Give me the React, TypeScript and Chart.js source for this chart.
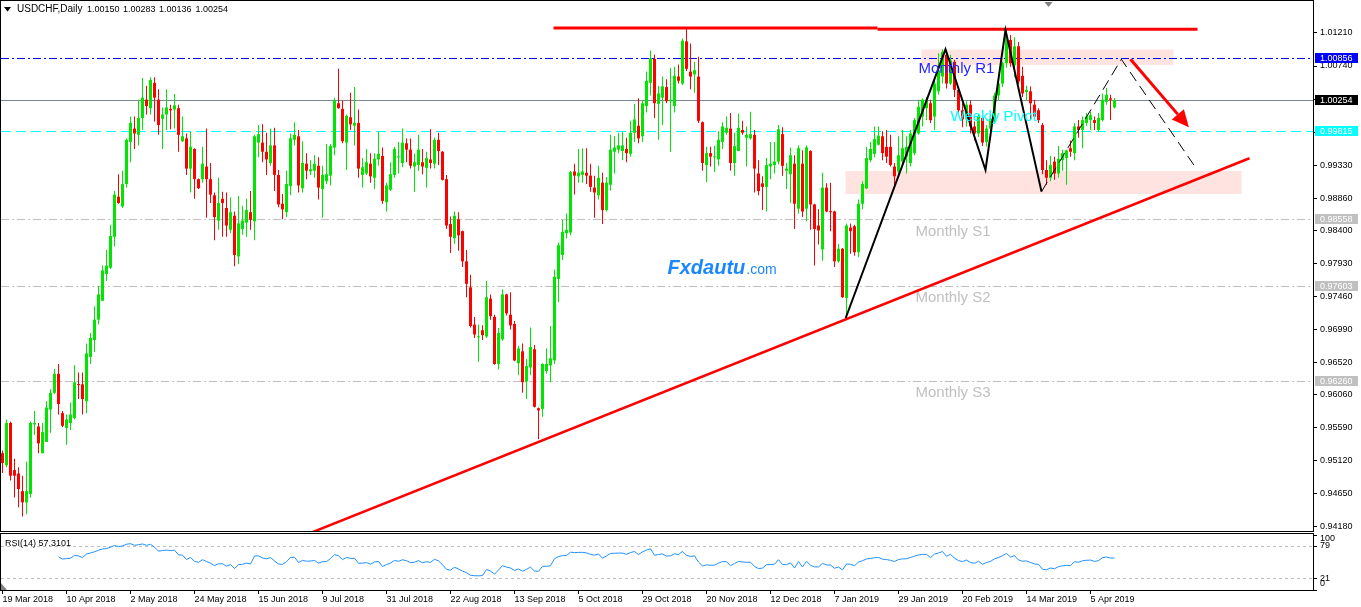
import React, { useEffect, useRef } from "react";
import { Chart, registerables } from "chart.js";

Chart.register(...registerables);

// ---------------- data ----------------
const SYMBOL_TITLE = "USDCHF,Daily";
const HEADER_QUOTE = ["1.00150", "1.00283", "1.00136", "1.00254"];

// Daily candles [open, high, low, close], 19 Mar 2018 .. Apr 2019
const OHLC: number[][] = [
  [0.9523, 0.9527, 0.9495, 0.9509], [0.9506, 0.9571, 0.9503, 0.9566], [0.9566, 0.9568, 0.9484, 0.9491], [0.9499, 0.9515, 0.946, 0.9491],
  [0.9494, 0.9503, 0.9446, 0.9472], [0.9469, 0.9491, 0.9433, 0.9453], [0.9453, 0.9511, 0.9436, 0.9469], [0.9465, 0.9568, 0.946, 0.9566],
  [0.9564, 0.9583, 0.9549, 0.9566], [0.9561, 0.9566, 0.9523, 0.9537], [0.9523, 0.9566, 0.9523, 0.9553], [0.9539, 0.9597, 0.9539, 0.9588],
  [0.9585, 0.9614, 0.9552, 0.9609], [0.9609, 0.9643, 0.9607, 0.9636], [0.9636, 0.965, 0.9578, 0.9593], [0.958, 0.9583, 0.956, 0.9562],
  [0.9559, 0.9578, 0.9535, 0.9571], [0.9566, 0.9595, 0.9556, 0.9578], [0.9573, 0.9648, 0.9571, 0.9624], [0.9621, 0.9638, 0.96, 0.962],
  [0.9621, 0.9638, 0.9578, 0.96], [0.9597, 0.9679, 0.958, 0.9665], [0.966, 0.9694, 0.965, 0.9687], [0.9684, 0.9732, 0.9667, 0.9713],
  [0.9713, 0.9761, 0.9706, 0.9749], [0.974, 0.979, 0.974, 0.9783], [0.9778, 0.9812, 0.9768, 0.979], [0.9787, 0.9848, 0.9785, 0.9832],
  [0.9831, 0.9896, 0.9817, 0.9891], [0.9888, 0.992, 0.9878, 0.9879], [0.9874, 0.9925, 0.9872, 0.9906], [0.9906, 0.9971, 0.9901, 0.9969],
  [0.9966, 1.0002, 0.9937, 0.9993], [0.9985, 1.0002, 0.9956, 0.9978], [0.9976, 1.0026, 0.9961, 1.0], [1.0, 1.0057, 0.9983, 1.0029],
  [1.0026, 1.0046, 1.0005, 1.0017], [1.0014, 1.0058, 1.0005, 1.0054], [1.005, 1.0058, 0.9995, 1.0029], [1.0026, 1.0041, 0.9976, 0.999],
  [0.9999, 1.0015, 0.9956, 1.0005], [1.0005, 1.0041, 0.9983, 1.0015], [1.0013, 1.0019, 0.9984, 1.0011], [1.0012, 1.0034, 0.9985, 1.0018],
  [1.0014, 1.0019, 0.9952, 0.9976], [0.9967, 1.0002, 0.9966, 0.9974], [0.9971, 0.9978, 0.9919, 0.9928], [0.9928, 0.998, 0.9894, 0.9959],
  [0.9956, 0.9957, 0.9885, 0.9913], [0.9913, 0.9914, 0.9899, 0.99], [0.9913, 0.9959, 0.9908, 0.9935], [0.9931, 0.9985, 0.9858, 0.9913],
  [0.9913, 0.9936, 0.9879, 0.9891], [0.989, 0.9894, 0.9826, 0.9859], [0.9854, 0.9915, 0.9841, 0.9879], [0.9885, 0.9895, 0.9831, 0.9879],
  [0.9872, 0.9894, 0.9831, 0.9847], [0.9841, 0.9887, 0.9836, 0.9866], [0.9861, 0.9867, 0.9789, 0.9805], [0.9803, 0.9889, 0.9792, 0.985],
  [0.9842, 0.9875, 0.9834, 0.9854], [0.9851, 0.9885, 0.9831, 0.9869], [0.9866, 0.9896, 0.9841, 0.9855], [0.9853, 0.9976, 0.9826, 0.9974],
  [0.9965, 0.999, 0.9944, 0.9977], [0.9965, 0.9991, 0.9937, 0.9952], [0.9952, 0.9979, 0.9919, 0.9941], [0.9936, 0.9985, 0.9932, 0.9961],
  [0.9961, 0.9986, 0.9896, 0.9919], [0.9919, 0.9926, 0.9873, 0.9877], [0.9878, 0.9892, 0.9856, 0.987], [0.9866, 0.9925, 0.9859, 0.9906],
  [0.9903, 0.9978, 0.989, 0.9971], [0.9969, 0.9994, 0.9961, 0.9976], [0.9974, 0.9983, 0.9894, 0.9904], [0.99, 0.9967, 0.9894, 0.9936],
  [0.9935, 0.995, 0.9913, 0.9925], [0.9924, 0.994, 0.9919, 0.9927], [0.9925, 0.9947, 0.9915, 0.9935], [0.9932, 0.9944, 0.9884, 0.9901],
  [0.9899, 0.9932, 0.9858, 0.9919], [0.991, 0.9963, 0.9906, 0.992], [0.9918, 0.9963, 0.9904, 0.996], [0.9958, 1.0029, 0.9947, 1.0025],
  [1.0021, 1.007, 1.0013, 1.0014], [1.0013, 1.0025, 0.9964, 0.9967], [0.9965, 1.0005, 0.9926, 1.0003], [1.0001, 1.0036, 0.9983, 0.9991],
  [0.9989, 1.0044, 0.9961, 0.9993], [0.9993, 1.0012, 0.9915, 0.9928], [0.9919, 0.9943, 0.9901, 0.993], [0.9921, 0.9956, 0.9919, 0.9937],
  [0.9935, 0.995, 0.9908, 0.9917], [0.9915, 0.995, 0.9899, 0.9942], [0.9941, 0.998, 0.9932, 0.9949], [0.9946, 0.9958, 0.9878, 0.9882],
  [0.988, 0.9908, 0.9867, 0.9904], [0.9898, 0.9937, 0.9896, 0.992], [0.9919, 0.9959, 0.9915, 0.9956], [0.9944, 0.9966, 0.9921, 0.9945],
  [0.9936, 0.9985, 0.993, 0.9965], [0.9964, 0.9971, 0.9937, 0.9955], [0.9955, 0.9971, 0.9928, 0.9932], [0.9931, 0.9949, 0.9895, 0.9937],
  [0.9933, 0.9976, 0.9925, 0.9955], [0.9937, 0.9956, 0.992, 0.9931], [0.9929, 0.9952, 0.9901, 0.9943], [0.9941, 0.9984, 0.9928, 0.9936],
  [0.9935, 0.9972, 0.9928, 0.9969], [0.9969, 0.9979, 0.9933, 0.9953], [0.9952, 0.9953, 0.9911, 0.9912], [0.9913, 0.9919, 0.9842, 0.9847],
  [0.9849, 0.986, 0.9808, 0.9831], [0.9829, 0.9867, 0.9821, 0.9861], [0.9856, 0.9866, 0.9811, 0.9833], [0.9839, 0.984, 0.9788, 0.9796],
  [0.9796, 0.9812, 0.9745, 0.9764], [0.9759, 0.9777, 0.9702, 0.9704], [0.9706, 0.9717, 0.9687, 0.9692], [0.9688, 0.9706, 0.9653, 0.9689],
  [0.9698, 0.9705, 0.9684, 0.9691], [0.9689, 0.9768, 0.9687, 0.9745], [0.9743, 0.9749, 0.9713, 0.9718], [0.9717, 0.972, 0.9649, 0.965],
  [0.965, 0.9701, 0.9642, 0.9694], [0.9685, 0.9756, 0.9683, 0.9749], [0.9749, 0.975, 0.9719, 0.9722], [0.972, 0.9752, 0.9699, 0.9705],
  [0.9707, 0.9711, 0.9654, 0.9655], [0.9651, 0.9676, 0.9634, 0.9672], [0.9668, 0.9679, 0.9609, 0.9624], [0.9625, 0.9657, 0.96, 0.9647],
  [0.9645, 0.9702, 0.9634, 0.9674], [0.9671, 0.9677, 0.9588, 0.9589], [0.9587, 0.9588, 0.9543, 0.9584], [0.9586, 0.9651, 0.9575, 0.965],
  [0.964, 0.9672, 0.9636, 0.965], [0.9648, 0.9704, 0.9624, 0.9658], [0.9655, 0.9784, 0.965, 0.9774], [0.9771, 0.9823, 0.9738, 0.9819],
  [0.9805, 0.9855, 0.9798, 0.9838], [0.9836, 0.9864, 0.9829, 0.9841], [0.9837, 0.9925, 0.9833, 0.9923], [0.9924, 0.9935, 0.9891, 0.9918],
  [0.9917, 0.9956, 0.9908, 0.9922], [0.9919, 0.9957, 0.9908, 0.9924], [0.9922, 0.9957, 0.9906, 0.9918], [0.9918, 0.9935, 0.9895, 0.9902],
  [0.9901, 0.9918, 0.9858, 0.9894], [0.989, 0.9932, 0.9884, 0.9915], [0.9908, 0.9922, 0.9849, 0.9869], [0.9869, 0.9916, 0.9867, 0.9908],
  [0.9905, 0.9976, 0.9897, 0.9955], [0.9952, 0.9974, 0.9921, 0.9958], [0.9955, 0.9979, 0.995, 0.9961], [0.9953, 0.998, 0.994, 0.9961],
  [0.9956, 0.9972, 0.9937, 0.995], [0.9949, 0.9996, 0.9945, 0.9979], [0.9979, 1.002, 0.9966, 0.9998], [0.9989, 1.0028, 0.9964, 0.9971],
  [0.9974, 1.0025, 0.9966, 1.0021], [1.0017, 1.0066, 1.0008, 1.0053], [1.005, 1.0096, 1.0032, 1.0085], [1.0084, 1.009, 1.0, 1.0021],
  [1.002, 1.0046, 0.9969, 1.0035], [1.0029, 1.0059, 0.999, 1.0045], [1.0044, 1.0055, 1.0021, 1.0024], [1.0024, 1.0071, 0.9952, 1.0026],
  [1.0017, 1.0073, 1.0008, 1.006], [1.0059, 1.0076, 1.0049, 1.0053], [1.0049, 1.0113, 1.0047, 1.011], [1.0109, 1.0128, 1.0067, 1.007],
  [1.0066, 1.0106, 1.0041, 1.0059], [1.0062, 1.008, 1.0036, 1.0068], [1.0059, 1.0087, 0.9993, 0.9996], [0.9994, 0.9995, 0.9925, 0.9936],
  [0.9933, 0.9959, 0.9909, 0.995], [0.995, 0.9959, 0.9931, 0.9945], [0.9944, 0.996, 0.9923, 0.9945], [0.9941, 0.9981, 0.9932, 0.9969],
  [0.9966, 0.9994, 0.9956, 0.9988], [0.9979, 1.0002, 0.9976, 0.9986], [0.9985, 1.0007, 0.9925, 0.9936], [0.9936, 0.9979, 0.9918, 0.996],
  [0.9953, 1.0006, 0.9953, 0.9986], [0.9983, 0.9996, 0.9976, 0.9979], [0.9972, 0.9988, 0.9931, 0.9976], [0.9971, 1.0009, 0.9969, 0.9977],
  [0.9976, 0.9983, 0.9894, 0.9928], [0.9921, 0.994, 0.989, 0.9896], [0.9907, 0.9917, 0.9869, 0.9902], [0.9902, 0.9943, 0.9867, 0.9933],
  [0.9931, 0.9966, 0.9913, 0.9935], [0.9933, 0.9966, 0.9921, 0.9938], [0.9938, 0.999, 0.9934, 0.9984], [0.9977, 0.9987, 0.9918, 0.9932],
  [0.9925, 0.9936, 0.9899, 0.9928], [0.992, 0.9958, 0.9879, 0.9947], [0.9935, 0.9947, 0.9842, 0.9878], [0.9871, 0.9961, 0.9864, 0.9957],
  [0.9935, 0.9954, 0.9859, 0.9867], [0.9871, 0.9961, 0.9853, 0.9958], [0.9953, 0.9954, 0.9841, 0.9877], [0.9877, 0.9878, 0.979, 0.9842],
  [0.9847, 0.987, 0.982, 0.984], [0.9813, 0.9922, 0.9797, 0.9901], [0.9901, 0.9907, 0.9866, 0.9867], [0.9867, 0.9908, 0.9839, 0.9866],
  [0.9867, 0.9868, 0.9788, 0.9796], [0.9796, 0.9821, 0.9794, 0.9814], [0.9814, 0.9815, 0.9744, 0.9745], [0.9744, 0.985, 0.9716, 0.9847],
  [0.9844, 0.985, 0.9807, 0.9839], [0.9846, 0.9848, 0.9804, 0.9809], [0.9809, 0.9884, 0.9802, 0.9878], [0.9878, 0.991, 0.987, 0.9906],
  [0.99, 0.9959, 0.9899, 0.9943], [0.994, 0.9966, 0.9937, 0.9956], [0.9949, 0.9988, 0.9944, 0.997], [0.9962, 0.9988, 0.9961, 0.9975],
  [0.9974, 0.9981, 0.994, 0.995], [0.9959, 0.9983, 0.9936, 0.9945], [0.9959, 0.9976, 0.9931, 0.9933], [0.9931, 0.9936, 0.9902, 0.9917],
  [0.9924, 0.9974, 0.9919, 0.9947], [0.9938, 0.9983, 0.9931, 0.9957], [0.9945, 0.9974, 0.9921, 0.9959], [0.9936, 0.9983, 0.9931, 0.9978],
  [0.995, 1.0, 0.9947, 0.9997], [0.9978, 1.0026, 0.9976, 1.0016], [1.0002, 1.0028, 0.9988, 1.0026], [1.0014, 1.003, 0.9997, 1.0026],
  [1.0021, 1.0026, 0.9993, 0.9997], [1.0002, 1.0054, 0.9983, 1.0049], [1.0038, 1.0092, 1.0033, 1.0068], [1.0059, 1.0098, 1.0049, 1.0094],
  [1.009, 1.0095, 1.0042, 1.0049], [1.0049, 1.009, 1.0047, 1.0082], [1.008, 1.0083, 1.003, 1.004], [1.004, 1.0045, 1.0008, 1.0011],
  [1.0011, 1.0021, 0.9987, 0.9998], [0.9998, 1.0024, 0.9988, 1.0019], [1.0019, 1.0025, 0.9978, 0.9988], [0.9988, 0.9995, 0.9968, 0.9978],
  [0.9978, 1.0006, 0.9973, 1.0002], [1.0, 1.0004, 0.996, 0.9965], [0.9966, 0.999, 0.9959, 0.9985], [0.9985, 1.0005, 0.998, 0.9999],
  [0.9999, 1.0036, 0.9994, 1.0032], [1.0032, 1.0052, 1.0025, 1.0049], [1.0049, 1.008, 1.0044, 1.0078], [1.0078, 1.0125, 1.0072, 1.0116],
  [1.0111, 1.0118, 1.0073, 1.0078], [1.0075, 1.0115, 1.0058, 1.0102], [1.0102, 1.0108, 1.0048, 1.0052], [1.006, 1.0073, 1.003, 1.0035],
  [1.0037, 1.0046, 1.0025, 1.004], [1.0038, 1.0045, 0.9997, 1.0021], [1.0019, 1.0026, 1.0, 1.0002], [1.0011, 1.0014, 0.9993, 0.9997],
  [0.999, 0.9993, 0.992, 0.9926], [0.9926, 0.994, 0.9905, 0.9915], [0.9915, 0.9946, 0.991, 0.9933], [0.9938, 0.9945, 0.9912, 0.9921],
  [0.9921, 0.996, 0.9915, 0.9942], [0.994, 0.9955, 0.9925, 0.995], [0.9943, 0.9955, 0.9905, 0.9954], [0.9957, 0.9968, 0.9945, 0.9952],
  [0.995, 0.9993, 0.994, 0.9988], [0.9988, 0.9997, 0.9972, 0.9983], [0.9983, 1.0002, 0.9957, 0.9997], [0.9993, 1.0007, 0.9989, 1.0002],
  [0.9997, 1.0009, 0.9983, 1.0004], [0.9997, 1.0002, 0.9983, 0.9993], [0.9983, 1.0007, 0.998, 1.0], [0.9997, 1.0035, 0.9995, 1.0026],
  [1.0023, 1.0043, 1.0019, 1.0033], [1.0028, 1.0033, 0.9997, 1.0026], [1.0015, 1.00283, 1.00136, 1.00254],
];

const DATE_LABELS = [
  "19 Mar 2018", "10 Apr 2018", "2 May 2018", "24 May 2018", "15 Jun 2018", "9 Jul 2018",
  "31 Jul 2018", "22 Aug 2018", "13 Sep 2018", "5 Oct 2018", "29 Oct 2018", "20 Nov 2018",
  "12 Dec 2018", "7 Jan 2019", "29 Jan 2019", "20 Feb 2019", "14 Mar 2019", "5 Apr 2019",
];
const DATE_LABEL_STEP = 16; // bars between date labels

const PRICE_TICKS = [
  1.0121, 1.0074, 1.0027, 0.998, 0.9933, 0.9886, 0.984, 0.9793, 0.9746, 0.9699, 0.9652, 0.9606, 0.9559, 0.9512, 0.9465, 0.9418,
];
const PRICE_MIN = 0.94123;
const PRICE_MAX = 1.01665;
const X_MIN = -0.375;
const X_MAX = 327.625;

// Pivot levels
const LEVEL_NAMES = ["Monthly R1", "Weekly Pivot", "Monthly S1", "Monthly S2", "Monthly S3"];
const LEVEL_PRICES = [1.00856, 0.99815, 0.98558, 0.97603, 0.9626];
const LEVEL_LABEL_AT = [[229, 1.00645], [237, 0.99958], [228.25, 0.98328], [228.25, 0.97375], [228.25, 0.96023]];
const BID_PRICE = 1.00254;

// Drawn objects (bar index, price)
const RESISTANCE = [[[137.75, 1.01281], [218.75, 1.01281]], [[218.75, 1.01262], [298.75, 1.01262]]];
const TRENDLINE = [[75, 0.9405], [311.75, 0.99427]];
const ZIGZAG = [[210.8, 0.97154], [235.75, 1.00978], [245.75, 0.9926], [250.75, 1.01253], [259.75, 0.98952]];
const PROJECTION = [[259.75, 0.98952], [279.7, 1.00836], [298.7, 0.9926]];
const ARROW = [[282, 1.00836], [296.6, 0.99868]];
const ZONES = [[229.75, 1.00975, 292.75, 1.00755], [210.75, 0.99246, 309.75, 0.98919]];
const WATERMARK = ["Fxdautu", ".com"];
const WATERMARK_AT = [166.25, 0.97783];
const SHIFT_MARK_INDEX = 261.5;

const RSI_PERIOD = 14;
const RSI_LEVELS = [79, 21];
const RSI_TITLE = "RSI(14) 57.3101";

// ---------------- style ----------------
const FONT = '"Liberation Sans", Arial, sans-serif';
const UP = "#00e600";
const DOWN = "#ff0000";
const LEVEL_LINE_COLORS = ["#0000ff", "#00ffff", "#c0c0c0", "#c0c0c0", "#c0c0c0"];
const LEVEL_TEXT_COLORS = ["#2424ff", "#00ffff", "#c0c0c0", "#c0c0c0", "#c0c0c0"];
const LEVEL_DASHES = [[8, 3, 2, 3], [10, 5], [8, 3, 2, 3], [8, 3, 2, 3], [8, 3, 2, 3]];
const LEVEL_BOX_TEXT = ["#ffffff", "#ffffff", "#ffffff", "#ffffff", "#ffffff"];

const W = 1361;
const H = 607;
const MAIN_H = 532;
const RSI_TOP = 532;
const RSI_H = 75;

function computeRSI(closes: number[], period: number) {
  const out: (number | null)[] = closes.map(() => null);
  let g = 0, l = 0;
  for (let i = 1; i < closes.length; i++) {
    const ch = closes[i] - closes[i - 1];
    const up = Math.max(ch, 0), dn = Math.max(-ch, 0);
    if (i <= period) {
      g += up; l += dn;
      if (i === period) {
        g /= period; l /= period;
        out[i] = l === 0 ? 100 : 100 - 100 / (1 + g / l);
      }
    } else {
      g = (g * (period - 1) + up) / period;
      l = (l * (period - 1) + dn) / period;
      out[i] = l === 0 ? 100 : 100 - 100 / (1 + g / l);
    }
  }
  return out;
}

function pt(chart: any, i: number, p: number) {
  return [chart.scales.x.getPixelForValue(i), chart.scales.y.getPixelForValue(p)];
}

function polyline(ctx: CanvasRenderingContext2D, chart: any, pts: number[][]) {
  ctx.beginPath();
  pts.forEach((q, k) => {
    const [x, y] = pt(chart, q[0], q[1]);
    if (k === 0) ctx.moveTo(x, y); else ctx.lineTo(x, y);
  });
  ctx.stroke();
}

const mainPlugin = {
  id: "mt4main",
  beforeDatasetsDraw(chart: any) {
    const { ctx, chartArea: a } = chart;
    ctx.save();
    ctx.beginPath();
    ctx.rect(a.left, a.top, a.right - a.left, a.bottom - a.top);
    ctx.clip();
    ctx.fillStyle = "#ffe3e0";
    ZONES.forEach((z) => {
      const [x1, y1] = pt(chart, z[0], z[1]);
      const [x2, y2] = pt(chart, z[2], z[3]);
      ctx.fillRect(x1, y1, x2 - x1, y2 - y1);
    });
    ctx.lineWidth = 1;
    LEVEL_PRICES.forEach((p, k) => {
      const y = Math.round(chart.scales.y.getPixelForValue(p)) + 0.5;
      ctx.strokeStyle = LEVEL_LINE_COLORS[k];
      ctx.setLineDash(LEVEL_DASHES[k]);
      ctx.beginPath();
      ctx.moveTo(a.left, y);
      ctx.lineTo(a.right, y);
      ctx.stroke();
    });
    ctx.setLineDash([]);
    const yb = Math.round(chart.scales.y.getPixelForValue(BID_PRICE)) + 0.5;
    ctx.strokeStyle = "#778899";
    ctx.beginPath();
    ctx.moveTo(a.left, yb);
    ctx.lineTo(a.right, yb);
    ctx.stroke();
    ctx.restore();
  },
  afterDatasetsDraw(chart: any) {
    const { ctx, chartArea: a } = chart;
    ctx.save();
    ctx.beginPath();
    ctx.rect(a.left, a.top, a.right - a.left, a.bottom - a.top);
    ctx.clip();
    // resistance
    ctx.strokeStyle = "#ff0000";
    ctx.lineWidth = 3;
    RESISTANCE.forEach((seg) => polyline(ctx, chart, seg));
    // trendline
    ctx.lineWidth = 2.5;
    polyline(ctx, chart, TRENDLINE);
    // zigzag
    ctx.strokeStyle = "#000000";
    ctx.lineWidth = 2;
    ctx.lineJoin = "miter";
    polyline(ctx, chart, ZIGZAG);
    ctx.lineWidth = 1;
    ctx.setLineDash([11, 6]);
    polyline(ctx, chart, PROJECTION);
    ctx.setLineDash([]);
    // arrow
    const [x0, y0] = pt(chart, ARROW[0][0], ARROW[0][1]);
    const [x1, y1] = pt(chart, ARROW[1][0], ARROW[1][1]);
    const len = Math.hypot(x1 - x0, y1 - y0);
    const dx = (x1 - x0) / len, dy = (y1 - y0) / len;
    const bx = x1 - dx * 17, by = y1 - dy * 17;
    ctx.strokeStyle = "#ff0000";
    ctx.fillStyle = "#ff0000";
    ctx.lineWidth = 3;
    ctx.beginPath();
    ctx.moveTo(x0, y0);
    ctx.lineTo(bx, by);
    ctx.stroke();
    ctx.beginPath();
    ctx.moveTo(x1, y1);
    ctx.lineTo(bx - dy * 8, by + dx * 8);
    ctx.lineTo(bx + dy * 8, by - dx * 8);
    ctx.closePath();
    ctx.fill();
    // level texts
    ctx.font = `15px ${FONT}`;
    ctx.textBaseline = "alphabetic";
    ctx.textAlign = "left";
    LEVEL_NAMES.forEach((name, k) => {
      const [x, y] = pt(chart, LEVEL_LABEL_AT[k][0], LEVEL_LABEL_AT[k][1]);
      ctx.fillStyle = LEVEL_TEXT_COLORS[k];
      ctx.fillText(name, x, y);
    });
    // watermark
    const [wx, wy] = pt(chart, WATERMARK_AT[0], WATERMARK_AT[1]);
    ctx.fillStyle = "#1a86ff";
    ctx.font = `italic bold 20px ${FONT}`;
    ctx.fillText(WATERMARK[0], wx, wy);
    const w0 = ctx.measureText(WATERMARK[0]).width;
    ctx.font = `14px ${FONT}`;
    ctx.fillText(WATERMARK[1], wx + w0 + 1, wy);
    ctx.restore();
  },
  afterDraw(chart: any) {
    const { ctx, chartArea: a } = chart;
    ctx.save();
    ctx.strokeStyle = "#000";
    ctx.lineWidth = 1;
    ctx.strokeRect(a.left - 0.5, a.top - 0.5, a.right - a.left + 1, a.bottom - a.top + 1);
    // shift marker
    const sx = chart.scales.x.getPixelForValue(SHIFT_MARK_INDEX);
    ctx.fillStyle = "#808080";
    ctx.beginPath();
    ctx.moveTo(sx - 4, a.top + 1);
    ctx.lineTo(sx + 4, a.top + 1);
    ctx.lineTo(sx, a.top + 6);
    ctx.closePath();
    ctx.fill();
    // price boxes
    ctx.font = `9px ${FONT}`;
    ctx.textBaseline = "middle";
    ctx.textAlign = "left";
    const boxes = [
      [LEVEL_PRICES[0], LEVEL_LINE_COLORS[0]],
      [BID_PRICE, "#000000"],
      [LEVEL_PRICES[1], LEVEL_LINE_COLORS[1]],
      [LEVEL_PRICES[2], LEVEL_LINE_COLORS[2]],
      [LEVEL_PRICES[3], LEVEL_LINE_COLORS[3]],
      [LEVEL_PRICES[4], LEVEL_LINE_COLORS[4]],
    ];
    boxes.forEach(([p, c]: any) => {
      const y = Math.round(chart.scales.y.getPixelForValue(p));
      ctx.fillStyle = c;
      ctx.fillRect(a.right + 2, y - 5, 43, 10);
      ctx.fillStyle = "#ffffff";
      ctx.fillText(p.toFixed(5), a.right + 7, y + 0.5);
    });
    // header
    ctx.fillStyle = "#000";
    ctx.beginPath();
    ctx.moveTo(4, 7);
    ctx.lineTo(11, 7);
    ctx.lineTo(7.5, 11.5);
    ctx.closePath();
    ctx.fill();
    ctx.font = `10px ${FONT}`;
    ctx.fillText(SYMBOL_TITLE, 17, 9.5);
    ctx.font = `9px ${FONT}`;
    const qx = [87, 123, 159, 195.5];
    HEADER_QUOTE.forEach((q, k) => ctx.fillText(q, qx[k], 9.5));
    ctx.restore();
  },
};

const rsiPlugin = {
  id: "mt4rsi",
  beforeDatasetsDraw(chart: any) {
    const { ctx, chartArea: a } = chart;
    ctx.save();
    ctx.strokeStyle = "#c0c0c0";
    ctx.lineWidth = 1;
    ctx.setLineDash([3, 3]);
    RSI_LEVELS.forEach((v) => {
      const y = Math.round(chart.scales.y.getPixelForValue(v)) + 0.5;
      ctx.beginPath();
      ctx.moveTo(a.left, y);
      ctx.lineTo(a.right, y);
      ctx.stroke();
    });
    ctx.restore();
  },
  afterDraw(chart: any) {
    const { ctx, chartArea: a } = chart;
    ctx.save();
    ctx.strokeStyle = "#000";
    ctx.lineWidth = 1;
    ctx.strokeRect(a.left - 0.5, a.top - 0.5, a.right - a.left + 1, a.bottom - a.top + 1);
    ctx.font = `9px ${FONT}`;
    ctx.fillStyle = "#000";
    ctx.textBaseline = "middle";
    ctx.textAlign = "left";
    ctx.fillText(RSI_TITLE, 5, a.top + 9.5);
    const lx = a.right + 7;
    ctx.fillText("100", lx, a.top + 5);
    RSI_LEVELS.forEach((v) => ctx.fillText(String(v), lx, chart.scales.y.getPixelForValue(v)));
    ctx.fillText("0", lx, a.bottom - 6);
    ctx.beginPath();
    [a.top + 0.5, chart.scales.y.getPixelForValue(79), chart.scales.y.getPixelForValue(21), a.bottom - 0.5].forEach((y) => {
      const yy = Math.round(y) + 0.5;
      ctx.moveTo(a.right, yy);
      ctx.lineTo(a.right + 4, yy);
    });
    ctx.stroke();
    ctx.fillStyle = "#808080";
    ctx.beginPath();
    ctx.moveTo(a.left, a.bottom - 7);
    ctx.lineTo(a.left, a.bottom);
    ctx.lineTo(a.left + 6, a.bottom);
    ctx.closePath();
    ctx.fill();
    ctx.restore();
  },
};

export default function App() {
  const mainRef = useRef<HTMLCanvasElement>(null);
  const rsiRef = useRef<HTMLCanvasElement>(null);

  useEffect(() => {
    const colors = OHLC.map((c) => (c[3] >= c[0] ? UP : DOWN));
    const bodies = OHLC.map((c, i) => ({ x: i, y: [c[0], c[3]] }));
    const wicks = OHLC.map((c, i) => ({ x: i, y: [c[2], c[1]] }));

    const main = new Chart(mainRef.current as HTMLCanvasElement, {
      type: "bar",
      data: {
        datasets: [
          { data: bodies as any, backgroundColor: colors, borderWidth: 0, barThickness: 3, minBarLength: 1, grouped: false, inflateAmount: 0 } as any,
          { data: wicks as any, backgroundColor: colors, borderWidth: 0, barThickness: 1, grouped: false, inflateAmount: 0 } as any,
        ],
      },
      options: {
        animation: false,
        responsive: false,
        devicePixelRatio: 1,
        events: [],
        layout: { padding: { left: 1, top: 1, right: 0, bottom: 1 }, autoPadding: false } as any,
        plugins: { legend: { display: false }, tooltip: { enabled: false } },
        scales: {
          x: { type: "linear", min: X_MIN, max: X_MAX, display: false, offset: false },
          y: {
            type: "linear",
            position: "right",
            min: PRICE_MIN,
            max: PRICE_MAX,
            afterBuildTicks: (s: any) => { s.ticks = PRICE_TICKS.map((v) => ({ value: v })); },
            afterFit: (s: any) => { s.width = 48; s.paddingTop = 0; s.paddingBottom = 0; },
            ticks: {
              autoSkip: false,
              padding: 3,
              color: "#000",
              font: { family: FONT, size: 9 },
              callback: (v: any) => Number(v).toFixed(5),
            },
            grid: { drawOnChartArea: false, drawTicks: true, tickLength: 4, color: "#000" },
            border: { display: false },
          } as any,
        },
      },
      plugins: [mainPlugin],
    });

    const closes = OHLC.map((c) => c[3]);
    const rsi = computeRSI(closes, RSI_PERIOD);
    const rsiPoints = rsi.map((v, i) => ({ x: i, y: v })).filter((p) => p.y !== null);

    const rsiChart = new Chart(rsiRef.current as HTMLCanvasElement, {
      type: "line",
      data: {
        datasets: [{ data: rsiPoints as any, borderColor: "#1e90ff", borderWidth: 1, pointRadius: 0, tension: 0, fill: false }],
      },
      options: {
        animation: false,
        responsive: false,
        devicePixelRatio: 1,
        events: [],
        layout: { padding: { left: 1, top: 2, right: 48, bottom: 0 }, autoPadding: false } as any,
        plugins: { legend: { display: false }, tooltip: { enabled: false } },
        scales: {
          x: {
            type: "linear",
            min: X_MIN,
            max: X_MAX,
            offset: false,
            position: "bottom",
            afterBuildTicks: (s: any) => { s.ticks = DATE_LABELS.map((_, k) => ({ value: k * DATE_LABEL_STEP })); },
            afterFit: (s: any) => { s.height = 17; s.paddingLeft = 0; s.paddingRight = 0; },
            ticks: {
              autoSkip: false,
              maxRotation: 0,
              minRotation: 0,
              align: "start",
              padding: 0,
              color: "#000",
              font: { family: FONT, size: 9 },
              callback: (v: any) => DATE_LABELS[Math.round(Number(v) / DATE_LABEL_STEP)],
            },
            grid: { drawOnChartArea: false, drawTicks: true, tickLength: 4, color: "#000" },
            border: { display: false },
          } as any,
          y: { type: "linear", min: 0, max: 100, display: false },
        },
      },
      plugins: [rsiPlugin],
    });

    return () => {
      main.destroy();
      rsiChart.destroy();
    };
  }, []);

  return (
    <div style={{ position: "absolute", left: 0, top: 0, width: W, height: H, background: "#ffffff" }}>
      <canvas ref={mainRef} width={W} height={MAIN_H} style={{ position: "absolute", left: 0, top: 0, width: W, height: MAIN_H }} />
      <canvas ref={rsiRef} width={W} height={RSI_H} style={{ position: "absolute", left: 0, top: RSI_TOP, width: W, height: RSI_H }} />
    </div>
  );
}
